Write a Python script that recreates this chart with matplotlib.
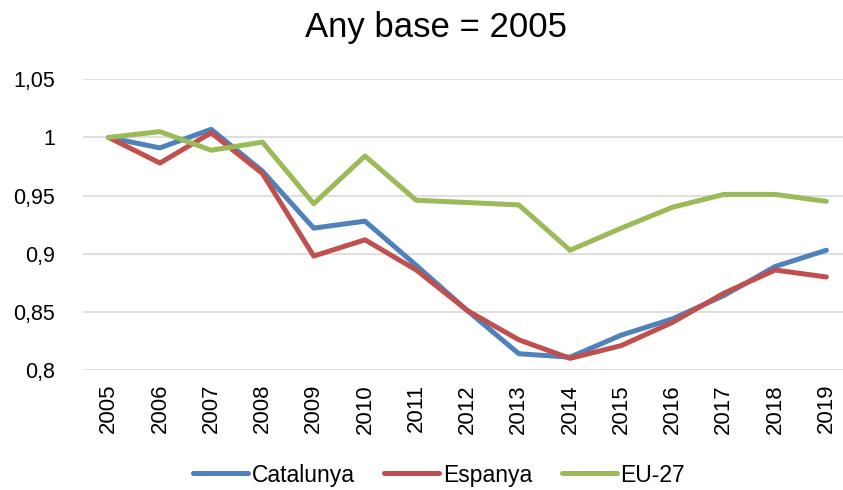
import matplotlib.pyplot as plt

plt.rcParams['font.family'] = ['Liberation Sans', 'DejaVu Sans']

# Data (index, base 2005 = 1)
years = ['2005', '2006', '2007', '2008', '2009', '2010', '2011', '2012',
         '2013', '2014', '2015', '2016', '2017', '2018', '2019']
catalunya = [1.0, 0.991, 1.007, 0.971, 0.922, 0.928, 0.890, 0.851,
             0.814, 0.811, 0.830, 0.844, 0.864, 0.889, 0.903]
espanya = [1.0, 0.978, 1.004, 0.969, 0.898, 0.912, 0.886, 0.851,
           0.826, 0.810, 0.821, 0.841, 0.866, 0.886, 0.880]
eu27 = [1.0, 1.005, 0.989, 0.996, 0.943, 0.984, 0.946, 0.944,
        0.942, 0.903, 0.922, 0.940, 0.951, 0.951, 0.945]

yticks = [0.8, 0.85, 0.9, 0.95, 1.0, 1.05]
ytick_labels = ['0,8', '0,85', '0,9', '0,95', '1', '1,05']

W, H = 843, 490
fig = plt.figure(figsize=(W / 100, H / 100), dpi=100)
ax = fig.add_axes([83 / W, (H - 370) / H, (852 - 83) / W, (370 - 79.3) / H])

x = range(len(years))
ax.plot(x, catalunya, color='#4F81BD', lw=3.6, label='Catalunya', solid_capstyle='round')
ax.plot(x, espanya, color='#C0504D', lw=3.6, label='Espanya', solid_capstyle='round')
ax.plot(x, eu27, color='#9BBB59', lw=3.6, label='EU-27', solid_capstyle='round')

ax.set_xlim(-0.5, len(years) - 0.5)
ax.set_ylim(0.8, 1.05)
ax.set_xticks(list(x))
ax.set_xticklabels(years, rotation=90, fontsize=16)
ax.set_yticks(yticks)
ax.set_yticklabels(ytick_labels, fontsize=15.5)
ax.tick_params(length=0)
ax.tick_params(axis='x', pad=10)
ax.tick_params(axis='y', pad=20)

ax.grid(axis='y', color='#D9D9D9', lw=1.2)
ax.set_axisbelow(True)
for s in ax.spines.values():
    s.set_visible(False)

fig.text(436 / W, 1 - 37 / H, 'Any base = 2005', fontsize=25, ha='center', va='baseline')

fig.legend(loc='center', bbox_to_anchor=(439 / W, 1 - 475 / H), ncol=3, frameon=False,
           fontsize=16.5, handlelength=2.4, handletextpad=0.15, columnspacing=1.3)

plt.savefig('out.png', dpi=100)
